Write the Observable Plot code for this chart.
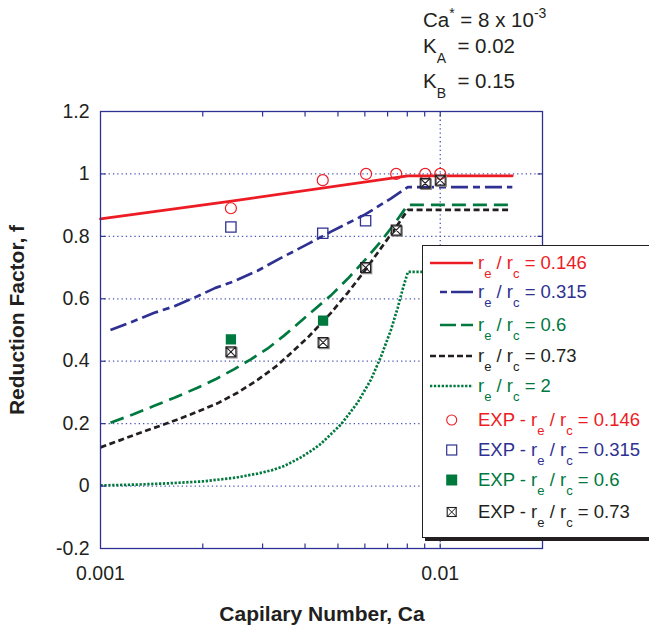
<!DOCTYPE html>
<html><head><meta charset="utf-8">
<script src="https://cdn.jsdelivr.net/npm/d3@7"></script>
<script src="https://cdn.jsdelivr.net/npm/@observablehq/plot@0.6"></script>
<style>
body{margin:0;background:#fff;}
#wrap{position:relative;width:649px;height:627px;overflow:hidden;font-family:"Liberation Sans",Arial,Helvetica,sans-serif;color:#231f20;}
#chart{position:absolute;left:0;top:0;}
.abs{position:absolute;white-space:nowrap;line-height:1;}
.ann{font-size:20.5px;}
.sup{font-size:14px;position:relative;top:-9px;}
.sub{font-size:14px;position:relative;top:10px;}
.lg{font-size:18.5px;}
.lsub{font-size:13px;position:relative;top:9px;margin-left:0px;}
#legend{position:absolute;left:422px;top:245px;width:300px;height:291px;border:1.5px solid #231f20;box-shadow:3px 3px 0 #231f20;background:#fff;}
.ttl{font-weight:bold;font-size:21px;}
</style></head>
<body>
<div id="wrap">
  <div id="chart"></div>
  <div class="abs ann" style="left:423px;top:10px;">Ca<span class="sup">*</span> = 8 x 10<span class="sup">-3</span></div>
  <div class="abs ann" style="left:423px;top:36px;">K<span class="sub">A</span>&nbsp; = 0.02</div>
  <div class="abs ann" style="left:423px;top:71px;">K<span class="sub">B</span>&nbsp; = 0.15</div>
  <div class="abs ttl" style="left:0;width:644px;top:603px;text-align:center;">Capilary Number, Ca</div>
  <div class="abs ttl" style="left:16px;top:320px;transform:translate(-50%,-50%) rotate(-90deg);">Reduction Factor, f</div>
  <div id="legend"></div>
</div>
<script>
// ---- data ----
const xTickLabels = [0.001, 0.01];
const yTickLabels = [-0.2, 0, 0.2, 0.4, 0.6, 0.8, 1, 1.2];
const yGrid = [0, 0.2, 0.4, 0.6, 0.8, 1];
const xMinorTicks = [0.002, 0.003, 0.004, 0.005, 0.006, 0.007, 0.008, 0.009, 0.01];

const caRed = [0.001, 0.0024, 0.00803, 0.0163];
const fRed  = [0.856, 0.912, 0.994, 0.994];

const caBlue = [0.00107, 0.00125, 0.00144, 0.00165, 0.00193, 0.00218, 0.00247, 0.0029, 0.0034, 0.00407, 0.00477, 0.00603, 0.00717, 0.00803, 0.0163];
const fBlue  = [0.50, 0.528, 0.555, 0.576, 0.608, 0.635, 0.656, 0.69, 0.731, 0.775, 0.815, 0.871, 0.922, 0.958, 0.958];

const caGreen = [0.00107, 0.00125, 0.00144, 0.00165, 0.00193, 0.00218, 0.00247, 0.00277, 0.0031, 0.00347, 0.00407, 0.00477, 0.00534, 0.00598, 0.0067, 0.00733, 0.00803, 0.0163];
const fGreen  = [0.203, 0.23, 0.257, 0.283, 0.315, 0.342, 0.374, 0.406, 0.44, 0.482, 0.547, 0.611, 0.664, 0.722, 0.785, 0.84, 0.901, 0.901];

const caBlack = [0.001, 0.00115, 0.00131, 0.00157, 0.00184, 0.00221, 0.00253, 0.0029, 0.00332, 0.00347, 0.00407, 0.00477, 0.00534, 0.00598, 0.0067, 0.00733, 0.00803, 0.016];
const fBlack  = [0.124, 0.148, 0.171, 0.201, 0.229, 0.265, 0.299, 0.34, 0.387, 0.406, 0.475, 0.555, 0.619, 0.688, 0.763, 0.822, 0.885, 0.885];

const caDot = [0.001, 0.0013, 0.0016, 0.002, 0.0025, 0.0029, 0.0032, 0.00347, 0.00389, 0.0042, 0.00446, 0.0051, 0.00571, 0.00626, 0.0067, 0.00717, 0.0075, 0.00776, 0.00803, 0.0163];
const fDot  = [0.002, 0.005, 0.009, 0.015, 0.027, 0.040, 0.051, 0.064, 0.092, 0.115, 0.136, 0.197, 0.267, 0.342, 0.416, 0.502, 0.572, 0.632, 0.686, 0.686];

const caExpRed = [0.00242, 0.00451, 0.00605, 0.00742, 0.00903, 0.01];
const fExpRed  = [0.89, 0.98, 1.0, 1.0, 1.0, 1.0];
const caExpBlue = [0.00242, 0.00451, 0.00603];
const fExpBlue  = [0.83, 0.81, 0.85];
const caExpGreen = [0.00242, 0.00452];
const fExpGreen  = [0.47, 0.53];
const caExpBlack = [0.00242, 0.00452, 0.00603, 0.00742, 0.00903, 0.01];
const fExpBlack  = [0.43, 0.46, 0.70, 0.82, 0.97, 0.98];

const seriesLabels = ["0.146", "0.315", "0.6", "0.73", "2"];

// ---- styles ----
const RED = "#ed1c24", BLUE = "#2e3192", GREEN = "#00793f", BLACK = "#231f20", AXIS = "#2e3192", GRID = "#4b55b0";
const rows = (xs, ys) => xs.map((x, i) => ({ca: x, f: ys[i]}));

const tickSym = (dx, dy) => ({draw(ctx) { ctx.moveTo(0, 0); ctx.lineTo(dx, dy); }});
const crossSquare = {draw(ctx, size) {
  const s = Math.sqrt(size) / 2;
  ctx.moveTo(-s, -s); ctx.lineTo(s, -s); ctx.lineTo(s, s); ctx.lineTo(-s, s); ctx.closePath();
  ctx.moveTo(-s, -s); ctx.lineTo(s, s); ctx.moveTo(s, -s); ctx.lineTo(-s, s);
}};

const lw = 2.7;
const chart = Plot.plot({
  width: 649, height: 627,
  marginTop: 111, marginBottom: 79, marginLeft: 100, marginRight: 107,
  x: {type: "log", domain: [0.001, 0.02]},
  y: {domain: [-0.2, 1.2]},
  style: {fontFamily: "'Liberation Sans', Arial, sans-serif", color: BLACK, background: "transparent"},
  marks: [
    Plot.ruleY(yGrid, {stroke: GRID, strokeWidth: 1.3, strokeDasharray: "1.3,3"}),
    Plot.ruleX([0.01], {stroke: GRID, strokeWidth: 1.3, strokeDasharray: "1.3,3"}),
    Plot.line(rows(caRed, fRed), {x: "ca", y: "f", stroke: RED, strokeWidth: lw}),
    Plot.line(rows(caBlue, fBlue), {x: "ca", y: "f", stroke: BLUE, strokeWidth: lw, strokeDasharray: "17,5,7,5", strokeLinecap: "butt"}),
    Plot.line(rows(caGreen, fGreen), {x: "ca", y: "f", stroke: GREEN, strokeWidth: lw, strokeDasharray: "14,7", strokeLinecap: "butt"}),
    Plot.line(rows(caBlack, fBlack), {x: "ca", y: "f", stroke: BLACK, strokeWidth: lw, strokeDasharray: "6,3.5", strokeLinecap: "butt"}),
    Plot.line(rows(caDot, fDot), {x: "ca", y: "f", stroke: GREEN, strokeWidth: lw, strokeDasharray: "2.3,1.6", strokeLinecap: "butt"}),
    Plot.dot(rows(caExpRed, fExpRed), {x: "ca", y: "f", r: 5.5, stroke: RED, strokeWidth: 1.2, fill: "none"}),
    Plot.dot(rows(caExpBlue, fExpBlue), {x: "ca", y: "f", r: 5.8, symbol: "square", stroke: BLUE, strokeWidth: 1.3, fill: "none"}),
    Plot.dot(rows(caExpGreen, fExpGreen), {x: "ca", y: "f", r: 5.8, symbol: "square", fill: GREEN, stroke: "none"}),
    Plot.dot(rows(caExpBlack, fExpBlack), {x: "ca", y: "f", r: 5.6, symbol: "square", stroke: "#8a8a8a", strokeWidth: 1.5, fill: "none", dx: 1, dy: 1}),
    Plot.dot(rows(caExpBlack, fExpBlack), {x: "ca", y: "f", r: 5.6, symbol: crossSquare, stroke: BLACK, strokeWidth: 1.1, fill: "none"}),
    Plot.frame({stroke: AXIS, strokeWidth: 1.3}),
    Plot.dot(xMinorTicks, {x: d => d, frameAnchor: "bottom", symbol: tickSym(0, -5), stroke: AXIS, fill: "none", strokeWidth: 1.2}),
    Plot.dot(xMinorTicks, {x: d => d, frameAnchor: "top", symbol: tickSym(0, 5), stroke: AXIS, fill: "none", strokeWidth: 1.2}),
    Plot.dot(yGrid, {y: d => d, frameAnchor: "left", symbol: tickSym(5, 0), stroke: AXIS, fill: "none", strokeWidth: 1.2}),
    Plot.dot(yGrid, {y: d => d, frameAnchor: "right", symbol: tickSym(-5, 0), stroke: AXIS, fill: "none", strokeWidth: 1.2}),
    Plot.axisX(xTickLabels, {tickSize: 0, tickPadding: 18, fontSize: 19.5, tickFormat: d => String(d), label: null}),
    Plot.axisY(yTickLabels, {tickSize: 0, tickPadding: 11, fontSize: 19.5, tickFormat: d => String(Math.round(d * 10) / 10), label: null})
  ]
});
document.getElementById("chart").appendChild(chart);

// ---- legend ----
const legendItems = [
  {y: 262.7, color: RED,   kind: "line", x1: 430, dash: null,        label: seriesLabels[0]},
  {y: 292.3, color: BLUE,  kind: "line", x1: 440, dash: "7,4,22,4",  label: seriesLabels[1]},
  {y: 325,   color: GREEN, kind: "line", x1: 440, dash: "16,5",      label: seriesLabels[2]},
  {y: 356,   color: BLACK, kind: "line", x1: 430, dash: "6,3",       label: seriesLabels[3]},
  {y: 385.7, color: GREEN, kind: "line", x1: 430, dash: "2.3,1.6",   label: seriesLabels[4]},
  {y: 420,   color: RED,   kind: "circle", label: seriesLabels[0]},
  {y: 450,   color: BLUE,  kind: "square", label: seriesLabels[1]},
  {y: 480,   color: GREEN, kind: "filled", label: seriesLabels[2]},
  {y: 511.7, color: BLACK, kind: "cross",  label: seriesLabels[3]}
];
const wrap = document.getElementById("wrap");
const NS = "http://www.w3.org/2000/svg";
for (const it of legendItems) {
  const svg = document.createElementNS(NS, "svg");
  svg.setAttribute("width", 50); svg.setAttribute("height", 16);
  svg.style.position = "absolute"; svg.style.left = "426px"; svg.style.top = (it.y - 8) + "px";
  let inner = "";
  if (it.kind === "line") {
    inner = `<line x1="${it.x1 - 426}" x2="${473 - 426}" y1="8" y2="8" stroke="${it.color}" stroke-width="2.7" ${it.dash ? `stroke-dasharray="${it.dash}"` : ""}/>`;
  } else {
    const cx = 451.7 - 426;
    if (it.kind === "circle") inner = `<circle cx="${cx}" cy="8" r="5" fill="none" stroke="${it.color}" stroke-width="1.1"/>`;
    if (it.kind === "square") inner = `<rect x="${cx - 5}" y="3" width="10" height="10" fill="none" stroke="${it.color}" stroke-width="1.2"/>`;
    if (it.kind === "filled") inner = `<rect x="${cx - 5.5}" y="2.5" width="11" height="11" fill="${it.color}"/>`;
    if (it.kind === "cross") inner = `<rect x="${cx - 4.5}" y="3.5" width="9" height="9" fill="none" stroke="${it.color}" stroke-width="1.1"/><path d="M${cx - 4.5},3.5L${cx + 4.5},12.5M${cx + 4.5},3.5L${cx - 4.5},12.5" stroke="${it.color}" stroke-width="1"/>`;
  }
  svg.innerHTML = inner;
  wrap.appendChild(svg);
  const t = document.createElement("div");
  t.className = "abs lg";
  t.style.left = "478px"; t.style.top = (it.y + 6 - 15) + "px"; t.style.color = it.color;
  const pre = it.kind === "line" ? "" : "EXP - ";
  t.innerHTML = `${pre}r<span class="lsub">e</span> / r<span class="lsub">c</span> = ${it.label}`;
  wrap.appendChild(t);
}
</script>
</body></html>
